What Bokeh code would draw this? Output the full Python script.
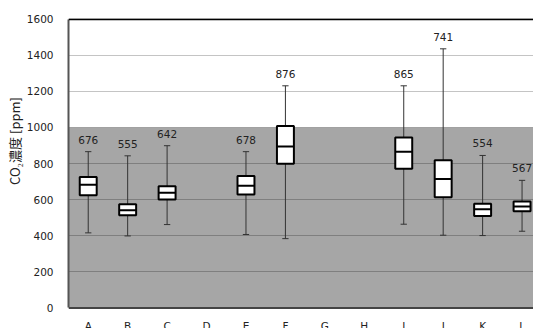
from bokeh.plotting import figure
from bokeh.models import ColumnDataSource, FixedTicker, BoxAnnotation, Span
from bokeh.transform import dodge
from bokeh.core.properties import value
from bokeh.embed import file_html
from bokeh.resources import INLINE
import math

nan = float("nan")

# Rooms and CO2 concentration statistics [ppm]
rooms = ["A", "B", "C", "D", "E", "F", "G", "H", "I", "J", "K", "L"]
whisker_hi = [866, 843, 899, nan, 866, 1231, nan, nan, 1231, 1436, 845, 707]
q3 = [725, 575, 675, nan, 731, 1008, nan, nan, 945, 818, 577, 590]
median = [683, 542, 638, nan, 677, 895, nan, nan, 866, 714, 547, 562]
q1 = [625, 514, 601, nan, 629, 799, nan, nan, 771, 614, 510, 536]
whisker_lo = [416, 399, 462, nan, 407, 384, nan, nan, 464, 403, 401, 425]
mean = [676, 555, 642, nan, 678, 876, nan, nan, 865, 741, 554, 567]

y_ticks = [0, 200, 400, 600, 800, 1000, 1200, 1400, 1600]
limit_ppm = 1000
# ideographic spaces lift the title a little above the frame centre
y_title = "\u3000" * 5 + "CO₂濃度 [ppm]"

FONT = "DejaVu Sans"

pos = list(range(1, len(rooms) + 1))
keep = [i for i in range(len(rooms)) if not math.isnan(median[i])]
src = ColumnDataSource(dict(
    x=[pos[i] for i in keep],
    hi=[whisker_hi[i] for i in keep],
    q3=[q3[i] for i in keep],
    med=[median[i] for i in keep],
    q1=[q1[i] for i in keep],
    lo=[whisker_lo[i] for i in keep],
    lab=[str(mean[i]) for i in keep],
))
cat_src = ColumnDataSource(dict(x=pos, name=rooms, y=[0] * len(rooms)))

p = figure(width=533, height=328, output_backend="svg", toolbar_location=None,
           x_range=(0.5, 12.29), y_range=(-114, 1604),
           min_border_left=68, min_border_right=0, min_border_top=18, min_border_bottom=0)
p.outline_line_color = None
p.background_fill_color = "white"
p.border_fill_color = "white"

# shaded region below the 1000 ppm guideline
p.add_layout(BoxAnnotation(bottom=0, top=limit_ppm, fill_color="#a6a6a6", fill_alpha=1.0,
                           line_color=None, level="image"))

p.xaxis.visible = False
p.xgrid.visible = False
p.ygrid.ticker = FixedTicker(ticks=y_ticks)
p.ygrid.grid_line_color = "black"
p.ygrid.grid_line_alpha = 0.23
p.ygrid.grid_line_width = 1

yax = p.yaxis[0]
yax.ticker = FixedTicker(ticks=y_ticks)
yax.bounds = (0, 1600)
yax.axis_line_color = "#555555"
yax.axis_line_width = 2
yax.major_tick_line_color = None
yax.minor_tick_line_color = None
yax.major_tick_out = 0
yax.major_tick_in = 0
yax.minor_tick_out = 0
yax.minor_tick_in = 0
yax.major_label_text_font = FONT
yax.major_label_text_font_size = "10.5px"
yax.major_label_text_color = "#222222"
yax.major_label_standoff = 15
yax.axis_label = y_title
yax.axis_label_text_font = "Noto Sans CJK JP"
yax.axis_label_text_font_size = "13px"
yax.axis_label_text_font_style = "normal"
yax.axis_label_text_color = "#222222"
yax.axis_label_standoff = 0

# frame lines at the top and along the zero line
p.add_layout(Span(location=1600, dimension="width", line_color="black", line_width=2))
p.add_layout(Span(location=0, dimension="width", line_color="#444444", line_width=2))

# whiskers and caps
p.segment(x0="x", y0="q3", x1="x", y1="hi", source=src, line_color="#333333", line_width=1)
p.segment(x0="x", y0="q1", x1="x", y1="lo", source=src, line_color="#333333", line_width=1)
p.segment(x0=dodge("x", -0.08), y0="hi", x1=dodge("x", 0.08), y1="hi", source=src,
          line_color="#333333", line_width=1)
p.segment(x0=dodge("x", -0.08), y0="lo", x1=dodge("x", 0.08), y1="lo", source=src,
          line_color="#333333", line_width=1)

# boxes and medians
p.vbar(x="x", top="q3", bottom="q1", width=0.43, source=src,
       fill_color="white", line_color="black", line_width=2)
p.segment(x0=dodge("x", -0.215), y0="med", x1=dodge("x", 0.215), y1="med", source=src,
          line_color="black", line_width=2)

# mean labels above each upper whisker
p.text(x="x", y="hi", text="lab", source=src, y_offset=-12,
       text_align="center", text_baseline="middle",
       text_font=value(FONT), text_font_size="10.5px", text_color="#222222")

# room names under the zero line
p.text(x="x", y="y", text="name", source=cat_src, y_offset=12,
       text_align="center", text_baseline="top",
       text_font=value(FONT), text_font_size="10.5px", text_color="#222222")

open("out.html", "w").write(file_html(p, INLINE))
